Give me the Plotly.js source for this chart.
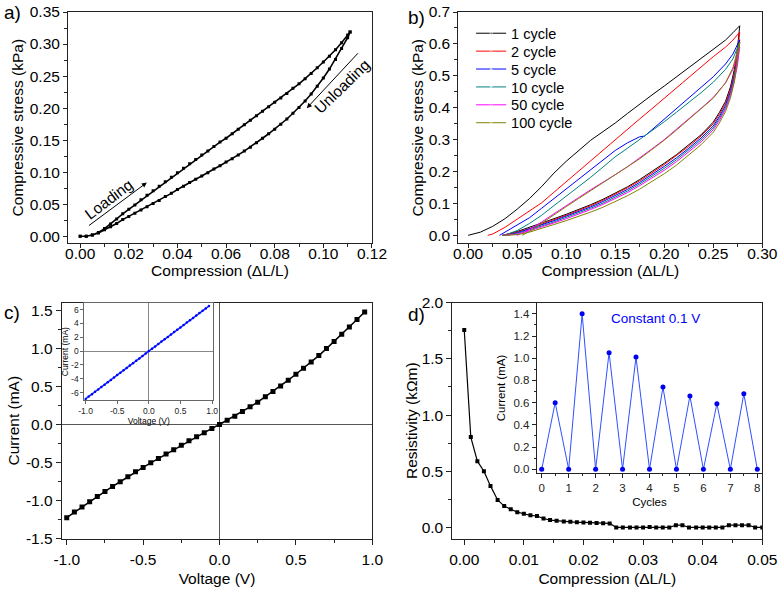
<!DOCTYPE html>
<html><head><meta charset="utf-8">
<script src="https://cdn.plot.ly/plotly-3.0.1.min.js"></script>
<style>html,body{margin:0;padding:0;background:#fff}#chart{width:780px;height:589px}</style>
</head><body><div id="chart"></div>
<script>
// ---------- Panel a: loading / unloading loop ----------
const aX = [0,0.0025,0.005,0.0075,0.01,0.0125,0.015,0.0175,0.02,0.0225,0.025,0.0275,0.03,0.0325,0.035,0.0375,0.04,0.0425,0.045,0.0475,0.05,0.0525,0.055,0.0575,0.06,0.0625,0.065,0.0675,0.07,0.0725,0.075,0.0775,0.08,0.0825,0.085,0.0875,0.09,0.0925,0.095,0.0975,0.1,0.1025,0.105,0.1075,0.11,0.111];
const aUpperY = [0,0,0.002,0.006,0.012,0.019,0.027,0.035,0.042,0.049,0.057,0.064,0.071,0.078,0.085,0.092,0.099,0.106,0.113,0.120,0.127,0.133,0.140,0.147,0.153,0.160,0.167,0.174,0.181,0.188,0.195,0.202,0.209,0.216,0.223,0.231,0.238,0.246,0.254,0.263,0.272,0.281,0.291,0.302,0.314,0.319];
const aLowerY = [0,0,0.002,0.005,0.010,0.015,0.020,0.026,0.031,0.036,0.041,0.046,0.051,0.056,0.062,0.067,0.073,0.078,0.084,0.089,0.094,0.099,0.105,0.110,0.116,0.121,0.127,0.133,0.139,0.146,0.153,0.160,0.167,0.175,0.183,0.192,0.201,0.211,0.222,0.234,0.247,0.261,0.276,0.293,0.310,0.319];

// ---------- Panel b: cycles ----------
const bLowX = [0.2745,0.2715,0.2675,0.2625,0.2562,0.25,0.2375,0.225,0.2125,0.2,0.1875,0.175,0.1625,0.15,0.1375,0.125,0.1125,0.1,0.0875,0.075,0.0625,0.05,0.04,0.035];
const b1UpX = [0,0.0125,0.025,0.0375,0.05,0.0625,0.075,0.0875,0.1,0.1125,0.125,0.1375,0.15,0.1625,0.175,0.1875,0.2,0.2125,0.225,0.2375,0.25,0.2625,0.27,0.277];
const b1UpY = [0,0.010,0.028,0.052,0.082,0.115,0.153,0.195,0.232,0.266,0.298,0.325,0.352,0.382,0.412,0.440,0.468,0.497,0.527,0.556,0.585,0.612,0.635,0.657];
const b1LowY = [0.58,0.52,0.465,0.42,0.385,0.355,0.315,0.283,0.253,0.226,0.200,0.175,0.152,0.132,0.113,0.096,0.080,0.066,0.052,0.038,0.024,0.012,0.004,0];
const b2UpX = [0.02,0.025,0.0375,0.05,0.0625,0.075,0.0875,0.1,0.1125,0.125,0.1375,0.15,0.1625,0.175,0.1875,0.2,0.2125,0.225,0.2375,0.25,0.2625,0.27,0.277];
const b2UpY = [0,0.004,0.025,0.05,0.075,0.102,0.135,0.168,0.202,0.236,0.268,0.300,0.333,0.365,0.397,0.430,0.462,0.495,0.527,0.560,0.590,0.612,0.637];
const b2LowY = [0.565,0.51,0.458,0.414,0.379,0.350,0.311,0.279,0.249,0.222,0.196,0.171,0.149,0.129,0.110,0.093,0.077,0.063,0.049,0.035,0.021,0.010,0.002,0];
const b5UpX = [0.032,0.0375,0.05,0.0625,0.075,0.0875,0.1,0.1125,0.125,0.1375,0.15,0.1625,0.175,0.18,0.1875,0.2,0.2125,0.225,0.2375,0.25,0.2625,0.27,0.277];
const b5UpY = [0,0.01,0.030,0.055,0.085,0.115,0.145,0.175,0.205,0.237,0.266,0.290,0.309,0.311,0.331,0.362,0.395,0.428,0.462,0.497,0.537,0.568,0.613];
const b5LowY = [0.55,0.50,0.45,0.407,0.372,0.343,0.305,0.273,0.243,0.216,0.190,0.166,0.144,0.124,0.106,0.089,0.074,0.060,0.046,0.033,0.020,0.008,0.001,0];
const b10UpX = [0.037,0.05,0.0625,0.075,0.0875,0.1,0.1125,0.125,0.1375,0.15,0.1625,0.175,0.1875,0.2,0.2125,0.225,0.2375,0.25,0.2625,0.27,0.277];
const b10UpY = [0,0.015,0.037,0.063,0.093,0.122,0.152,0.182,0.214,0.246,0.273,0.300,0.328,0.356,0.386,0.416,0.447,0.480,0.520,0.553,0.605];
const b10LowY = [0.545,0.495,0.445,0.401,0.366,0.337,0.299,0.267,0.237,0.210,0.185,0.161,0.139,0.119,0.101,0.085,0.070,0.056,0.042,0.029,0.017,0.006,0,0];
const b50UpX = [0.05,0.0625,0.075,0.0875,0.1,0.1125,0.125,0.1375,0.15,0.1625,0.175,0.1875,0.2,0.2125,0.225,0.2375,0.25,0.2625,0.27,0.277];
const b50UpY = [0,0.018,0.042,0.068,0.092,0.118,0.143,0.166,0.190,0.215,0.242,0.271,0.300,0.332,0.365,0.398,0.432,0.478,0.520,0.59];
const b50LowY = [0.53,0.485,0.438,0.395,0.360,0.331,0.293,0.261,0.231,0.204,0.179,0.156,0.134,0.115,0.097,0.081,0.066,0.052,0.039,0.026,0.014,0.004,0,0];
const b100UpX = [0.055,0.0625,0.075,0.0875,0.1,0.1125,0.125,0.1375,0.15,0.1625,0.175,0.1875,0.2,0.2125,0.225,0.2375,0.25,0.2625,0.27,0.277];
const b100UpY = [0,0.012,0.038,0.065,0.090,0.115,0.140,0.163,0.188,0.213,0.240,0.269,0.298,0.330,0.363,0.396,0.430,0.478,0.525,0.605];
const b100LowY = [0.54,0.48,0.43,0.388,0.352,0.323,0.284,0.251,0.220,0.193,0.168,0.145,0.124,0.105,0.088,0.073,0.059,0.046,0.034,0.022,0.010,0.002,0,0];
const bNames = ['1 cycle','2 cycle','5 cycle','10 cycle','50 cycle','100 cycle'];

// ---------- Panel c: I-V ----------
const cV = [-1.0,-0.95,-0.9,-0.85,-0.8,-0.75,-0.7,-0.65,-0.6,-0.55,-0.5,-0.45,-0.4,-0.35,-0.3,-0.25,-0.2,-0.15,-0.1,-0.05,0,0.05,0.1,0.15,0.2,0.25,0.3,0.35,0.4,0.45,0.5,0.55,0.6,0.65,0.7,0.75,0.8,0.85,0.9,0.95];
const cI = [-1.224,-1.15,-1.085,-1.015,-0.945,-0.879,-0.813,-0.752,-0.687,-0.621,-0.564,-0.503,-0.446,-0.389,-0.332,-0.271,-0.214,-0.162,-0.109,-0.052,0,0.057,0.109,0.171,0.232,0.293,0.363,0.433,0.507,0.582,0.66,0.739,0.822,0.905,0.997,1.089,1.185,1.281,1.378,1.478];
const cInsetI = [-6.90,-6.56,-6.21,-5.87,-5.52,-5.18,-4.84,-4.49,-4.15,-3.80,-3.46,-3.12,-2.77,-2.43,-2.08,-1.74,-1.40,-1.05,-0.71,-0.36,0.0,0.34,0.68,1.02,1.37,1.71,2.05,2.39,2.74,3.08,3.42,3.76,4.11,4.45,4.79,5.13,5.48,5.82,6.16,6.50];
const cXTickVals = [-1.0,-0.5,0,0.5,1.0];
const cXTickText = ['-1.0','-0.5','0.0','0.5','1.0'];
const cYTickVals = [-1.5,-1.0,-0.5,0,0.5,1.0,1.5];
const cYTickText = ['-1.5','-1.0','-0.5','0.0','0.5','1.0','1.5'];
const cInsetYTickVals = [-6,-4,-2,0,2,4,6];
const cInsetYTickText = ['-6','-4','-2','0','2','4','6'];

// ---------- Panel d: resistivity ----------
const dX = [0,0.0011,0.0022,0.0033,0.0044,0.0056,0.0067,0.0078,0.0089,0.0100,0.0111,0.0122,0.0133,0.0144,0.0155,0.0167,0.0178,0.0189,0.0200,0.0211,0.0222,0.0233,0.0244,0.0255,0.0266,0.0278,0.0289,0.0300,0.0311,0.0322,0.0333,0.0344,0.0355,0.0366,0.0377,0.0389,0.0400,0.0411,0.0422,0.0433,0.0444,0.0455,0.0466,0.0477,0.0488,0.0500];
const dY = [1.757,0.804,0.59,0.50,0.37,0.245,0.19,0.163,0.136,0.122,0.108,0.102,0.08,0.066,0.06,0.054,0.05,0.046,0.045,0.042,0.040,0.037,0.036,0,0,0,0,0,0.005,0,0,0,0.02,0.02,0,0,0,0,0,0,0.02,0.02,0.02,0.02,0,0];
const dCycles = [0,0.5,1,1.5,2,2.5,3,3.5,4,4.5,5,5.5,6,6.5,7,7.5,8];
const dCurrent = [0,0.6,0,1.4,0,1.05,0,1.01,0,0.74,0,0.66,0,0.59,0,0.68,0];

const FONT = 'Liberation Sans, Arial, Helvetica, sans-serif';
const LC = '#222';
const FS = 15.5;

function ax(o){
  return Object.assign({
    showgrid:false, zeroline:false, showline:true, mirror:true, linecolor:LC, linewidth:1,
    ticks:'outside', ticklen:5, tickwidth:1, tickcolor:LC,
    tickfont:{family:FONT,size:FS,color:'#000'}, automargin:false, fixedrange:true
  }, o);
}
function mir(o){
  return Object.assign({
    showgrid:false, zeroline:false, showline:false, showticklabels:false,
    ticks:'inside', ticklen:5, tickwidth:1, tickcolor:LC, automargin:false, fixedrange:true
  }, o);
}
function minor(d, dir, len){ return {dtick:d, ticks:dir, ticklen:len||3, tickwidth:1, tickcolor:LC, showgrid:false}; }
function ttl(text, standoff, size){ return {text:text, standoff:standoff, font:{family:FONT,size:size||FS,color:'#000'}}; }

const traces = [];
traces.push({x:aX.concat(aX.slice().reverse()), y:aUpperY.concat(aLowerY.slice().reverse()),
  xaxis:'x', yaxis:'y', mode:'lines+markers', showlegend:false,
  line:{color:'#000',width:1.6}, marker:{symbol:'square',size:3,color:'#000'}});

const bSets = [[b1UpX,b1UpY,b1LowY],[b2UpX,b2UpY,b2LowY],[b5UpX,b5UpY,b5LowY],[b10UpX,b10UpY,b10LowY],[b50UpX,b50UpY,b50LowY],[b100UpX,b100UpY,b100LowY]];
const bColors = ['#000000','#ff0000','#0000ff','#008080','#ff00ff','#808000'];
const bSyms = ['square','circle','triangle-up','triangle-down','diamond','pentagon'];
const legIds = ['legend','legend2','legend3','legend4','legend5','legend6'];
bSets.forEach((s,i)=>{
  const xs = s[0].concat(bLowX), ys = s[1].concat(s[2]);
  traces.push({x:xs, y:ys, xaxis:'x2', yaxis:'y2', legend:legIds[i],
    name:bNames[i], mode:'lines+markers', line:{color:bColors[i],width:1},
    marker:{symbol:bSyms[i],size:xs.map(()=>0),color:bColors[i]}});
});

traces.push({x:cV, y:cI, xaxis:'x3', yaxis:'y3', mode:'lines+markers', showlegend:false,
  line:{color:'#000',width:1.5}, marker:{symbol:'square',size:5,color:'#000'}});
traces.push({x:cV, y:cInsetI, xaxis:'x5', yaxis:'y5', mode:'lines+markers', showlegend:false,
  line:{color:'#1030ff',width:1.5}, marker:{symbol:'circle',size:2.5,color:'#0000ff'}});
traces.push({x:dX, y:dY, xaxis:'x4', yaxis:'y4', mode:'lines+markers', showlegend:false,
  line:{color:'#000',width:1.2}, marker:{symbol:'square',size:4,color:'#000'}});
traces.push({x:dCycles, y:dCurrent, xaxis:'x6', yaxis:'y6', mode:'lines+markers', showlegend:false,
  line:{color:'#3050ff',width:1}, marker:{symbol:'circle',size:5,color:'#0000ee'}});

const dA = {x:[0.0872,0.4769], y:[0.5869,0.9796]};
const dB = {x:[0.5876,0.9773], y:[0.5869,0.9796]};
const dC = {x:[0.0791,0.4773], y:[0.0854,0.4861]};
const dD = {x:[0.5799,0.9773], y:[0.0854,0.4861]};

const aXr=[-0.005,0.12], aYr=[-0.011,0.35];
const bXr=[-0.01,0.30], bYr=[-0.025,0.7];
const cXr=[-1.033,1.0], cYr=[-1.5,1.6];
const dXr=[-0.002,0.05], dYr=[-0.1,2.0];
const eXr=[-1.02,1.02], eYr=[-7.05,6.9];
const fXr=[-0.185,8.185], fYr=[-0.036,1.5];

const TOP = {ticklen:4, ticklabelstandoff:-8};
const BOT = {ticklen:5, ticklabelstandoff:2};

const layout = {
  width:780, height:589, margin:{l:0,r:0,t:0,b:0},
  paper_bgcolor:'#fff', plot_bgcolor:'#fff', font:{family:FONT,color:'#000'},
  showlegend:true,
  xaxis: ax(Object.assign({domain:dA.x, range:aXr, anchor:'y', dtick:0.02, tick0:0, tickformat:'.2f', minor:minor(0.01,'outside'), title:ttl('Compression (ΔL/L)',0)}, TOP)),
  yaxis: ax({domain:dA.y, range:aYr, anchor:'x', dtick:0.05, tick0:0, tickformat:'.2f', ticklen:4, minor:minor(0.025,'outside'), title:ttl('Compressive stress (kPa)',2)}),
  xaxis9: mir({overlaying:'x', anchor:'y', side:'top', range:aXr, dtick:0.02, tick0:0, ticklen:4, minor:minor(0.01,'inside')}),
  yaxis9: mir({overlaying:'y', anchor:'x', side:'right', range:aYr, dtick:0.05, tick0:0, ticklen:4, minor:minor(0.025,'inside')}),

  xaxis2: ax(Object.assign({domain:dB.x, range:bXr, anchor:'y2', dtick:0.05, tick0:0, tickformat:'.2f', minor:minor(0.025,'outside'), title:ttl('Compression (ΔL/L)',0)}, TOP)),
  yaxis2: ax({domain:dB.y, range:bYr, anchor:'x2', dtick:0.1, tick0:0, tickformat:'.1f', ticklen:4, minor:minor(0.05,'outside'), title:ttl('Compressive stress (kPa)',1)}),
  xaxis10: mir({overlaying:'x2', anchor:'y2', side:'top', range:bXr, dtick:0.05, tick0:0, ticklen:4, minor:minor(0.025,'inside')}),
  yaxis10: mir({overlaying:'y2', anchor:'x2', side:'right', range:bYr, dtick:0.1, tick0:0, ticklen:4, minor:minor(0.05,'inside')}),

  xaxis3: ax(Object.assign({domain:dC.x, range:cXr, anchor:'y3', tickvals:cXTickVals, ticktext:cXTickText, minor:minor(0.25,'outside'),
    zeroline:true, zerolinecolor:'#555', zerolinewidth:1.5, title:ttl('Voltage (V)',5)}, BOT)),
  yaxis3: ax({domain:dC.y, range:cYr, anchor:'x3', tickvals:cYTickVals, ticktext:cYTickText, minor:minor(0.25,'outside'),
    zeroline:true, zerolinecolor:'#555', zerolinewidth:1.5, title:ttl('Current (mA)',2)}),
  xaxis11: mir({overlaying:'x3', anchor:'y3', side:'top', range:cXr, tickvals:cXTickVals, minor:minor(0.25,'inside')}),
  yaxis11: mir({overlaying:'y3', anchor:'x3', side:'right', range:cYr, tickvals:cYTickVals, minor:minor(0.25,'inside')}),

  xaxis4: ax(Object.assign({domain:dD.x, range:dXr, anchor:'y4', dtick:0.01, tick0:0, tickformat:'.2f', minor:minor(0.005,'outside'), title:ttl('Compression (ΔL/L)',5)}, BOT)),
  yaxis4: ax({domain:dD.y, range:dYr, anchor:'x4', dtick:0.5, tick0:0, tickformat:'.1f', minor:minor(0.25,'outside'), title:ttl('Resistivity (kΩm)',0)}),
  xaxis12: mir({overlaying:'x4', anchor:'y4', side:'top', range:dXr, dtick:0.01, tick0:0, minor:minor(0.005,'inside')}),
  yaxis12: mir({overlaying:'y4', anchor:'x4', side:'right', range:dYr, dtick:0.5, tick0:0, minor:minor(0.25,'inside')}),

  xaxis5: ax({domain:[0.1081,0.2735], range:eXr, anchor:'y5', tickvals:cXTickVals, ticktext:cXTickText, linecolor:'#666', tickcolor:'#666', ticklen:3,
    tickfont:{family:FONT,size:8.5,color:'#222'}, zeroline:true, zerolinecolor:'#888', zerolinewidth:1, title:ttl('Voltage (V)',0,8.5)}),
  yaxis5: ax({domain:[0.3209,0.4851], range:eYr, anchor:'x5', tickvals:cInsetYTickVals, ticktext:cInsetYTickText, linecolor:'#666', tickcolor:'#666', ticklen:3,
    tickfont:{family:FONT,size:8.5,color:'#222'}, zeroline:true, zerolinecolor:'#888', zerolinewidth:1, title:ttl('Current (mA)',1,8.5)}),

  xaxis6: ax({domain:[0.6881,0.9773], range:fXr, anchor:'y6', dtick:1, tick0:0, ticklen:4, minor:minor(0.5,'outside',2),
    tickfont:{family:FONT,size:11.5,color:'#222'}, title:ttl('Cycles',4,11.5)}),
  yaxis6: ax({domain:[0.1964,0.4861], range:fYr, anchor:'x6', dtick:0.2, tick0:0, tickformat:'.1f', ticklen:4, minor:minor(0.1,'outside',2),
    tickfont:{family:FONT,size:11.5,color:'#222'}, title:ttl('Current (mA)',5,11.5)}),
  yaxis13: mir({overlaying:'y6', anchor:'x6', side:'right', range:fYr, dtick:0.2, tick0:0, ticklen:4, minor:minor(0.1,'inside',2)}),

  annotations:[
    {xref:'paper',yref:'paper',x:0.002,y:1.0,xanchor:'left',yanchor:'top',text:'a)',showarrow:false,font:{family:FONT,size:19,color:'#000'}},
    {xref:'paper',yref:'paper',x:0.520,y:0.992,xanchor:'left',yanchor:'top',text:'b)',showarrow:false,font:{family:FONT,size:19,color:'#000'}},
    {xref:'paper',yref:'paper',x:0.002,y:0.490,xanchor:'left',yanchor:'top',text:'c)',showarrow:false,font:{family:FONT,size:19,color:'#000'}},
    {xref:'paper',yref:'paper',x:0.521,y:0.487,xanchor:'left',yanchor:'top',text:'d)',showarrow:false,font:{family:FONT,size:19,color:'#000'}},
    {xref:'x',yref:'y',axref:'x',ayref:'y',x:0.0274,y:0.0838,ax:0.003,ay:0.015,text:'',showarrow:true,arrowhead:2,arrowsize:1,arrowwidth:1,arrowcolor:'#000'},
    {xref:'x',yref:'y',x:0.0115,y:0.058,text:'Loading',textangle:-37,showarrow:false,font:{family:FONT,size:FS,color:'#000'}},
    {xref:'x',yref:'y',axref:'x',ayref:'y',x:0.0932,y:0.200,ax:0.1148,ay:0.288,text:'',showarrow:true,arrowhead:2,arrowsize:1,arrowwidth:1,arrowcolor:'#000'},
    {xref:'x',yref:'y',x:0.1076,y:0.234,text:'Unloading',textangle:-44,showarrow:false,font:{family:FONT,size:FS,color:'#000'}},
    {xref:'paper',yref:'paper',x:0.8406,y:0.4596,xanchor:'center',yanchor:'middle',text:'Constant 0.1 V',showarrow:false,font:{family:FONT,size:13.5,color:'#0000ff'}}
  ]
};
const legRowY = [33.3, 51.2, 69.1, 87.0, 104.9, 122.8];
legIds.forEach((id,i)=>{
  layout[id] = {x:0.604, y:1 - legRowY[i]/589, xanchor:'left', yanchor:'middle', bgcolor:'rgba(0,0,0,0)',
    font:{family:FONT,size:14.5,color:'#000'}, itemwidth:30, borderwidth:0};
});

Plotly.newPlot('chart', traces, layout, {displayModeBar:false, staticPlot:true});
</script>
</body></html>
